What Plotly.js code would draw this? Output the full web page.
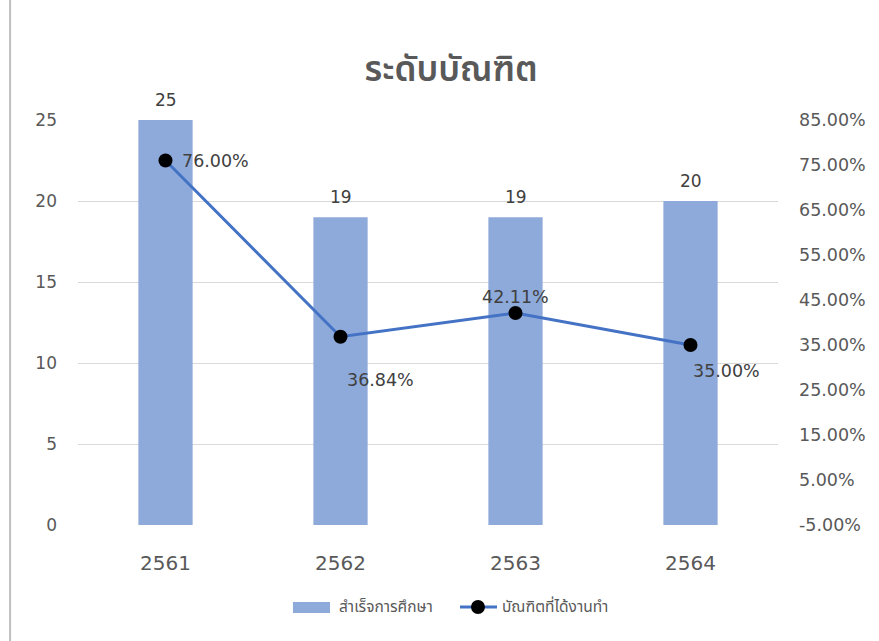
<!DOCTYPE html>
<html>
<head>
<meta charset="utf-8">
<script src="https://cdn.plot.ly/plotly-3.0.1.min.js"></script>
<style>html,body{margin:0;padding:0;background:#fff;}#chart{width:879px;height:641px;}</style>
</head>
<body>
<div id="chart"></div>
<script>
const categories = ['2561', '2562', '2563', '2564'];
const graduates = [25, 19, 19, 20];
const employedPct = [0.76, 0.3684, 0.4211, 0.35];
const barName = 'สำเร็จการศึกษา';
const lineName = 'บัณฑิตที่ได้งานทำ';
const titleText = 'ระดับบัณฑิต';
const leftTicks = [0, 5, 10, 15, 20, 25];
const rightTicks = [-0.05, 0.05, 0.15, 0.25, 0.35, 0.45, 0.55, 0.65, 0.75, 0.85];
// label placement per point: [xanchor, yshift, xshift]
const pctLabelPlace = [['left', 0, 14], ['left', -43, 4], ['center', 16, 0], ['left', -26, 0]];

const THAI = 'Noto Sans Thai, Noto Sans, sans-serif';
const NUM = 'DejaVu Sans, sans-serif';
const GREY = '#595959';
const BARCOLOR = '#8eaadb';
const LINECOLOR = '#4472c4';
const pct = v => (v * 100).toFixed(2) + '%';

const bar = {
  type: 'bar', x: categories, y: graduates, name: barName,
  marker: {color: BARCOLOR}, width: 0.31, yaxis: 'y', showlegend: false
};
const line = {
  type: 'scatter', mode: 'lines+markers', x: categories, y: employedPct, name: lineName,
  yaxis: 'y2', line: {color: LINECOLOR, width: 3},
  marker: {color: '#000', size: 14},
  cliponaxis: false, showlegend: false
};

const barLabels = graduates.map((v, i) => ({
  xref: 'x', yref: 'y', x: i, y: v, text: String(v), showarrow: false,
  xanchor: 'center', yanchor: 'middle', yshift: 20,
  font: {size: 17, color: '#404040', family: NUM}
}));
const pctLabels = employedPct.map((v, i) => ({
  xref: 'x', yref: 'y2', x: i, y: v, text: pct(v), showarrow: false,
  xanchor: pctLabelPlace[i][0], yanchor: 'middle',
  yshift: pctLabelPlace[i][1], xshift: pctLabelPlace[i][2],
  font: {size: 17.5, color: '#404040', family: NUM}
}));
// custom legend (wide bar swatch, like the reference)
const legendY = -0.2025;
const legendText = [
  {xref: 'paper', yref: 'paper', x: 0.37, y: legendY, text: barName, showarrow: false,
   xanchor: 'left', yanchor: 'middle', font: {size: 15.5, color: GREY, family: THAI}},
  {xref: 'paper', yref: 'paper', x: 0.603, y: legendY, text: lineName, showarrow: false,
   xanchor: 'left', yanchor: 'middle', font: {size: 15.5, color: GREY, family: THAI}}
];

const layout = {
  width: 879, height: 641,
  margin: {l: 78, r: 101, t: 120, b: 116},
  paper_bgcolor: '#fff', plot_bgcolor: '#fff',
  title: {text: titleText, font: {size: 35, color: GREY, family: THAI, weight: 600},
    x: 0.533, xanchor: 'center', xref: 'paper', y: 0.893, yanchor: 'middle'},
  bargap: 0.69,
  xaxis: {
    type: 'category', range: [-0.5, 3.5], tickfont: {size: 20, color: GREY, family: NUM},
    showline: false, ticks: '', showgrid: false, zeroline: false, ticklabelstandoff: 24
  },
  yaxis: {
    range: [0, 25], tickvals: leftTicks, ticktext: leftTicks.map(String),
    tickfont: {size: 17, color: GREY, family: NUM},
    showgrid: true, gridcolor: '#d9d9d9', gridwidth: 1, zeroline: false,
    ticks: '', ticklabelstandoff: 20
  },
  yaxis2: {
    overlaying: 'y', side: 'right', range: [-0.05, 0.85],
    tickvals: rightTicks, ticktext: rightTicks.map(pct),
    tickfont: {size: 17.5, color: GREY, family: NUM},
    showgrid: false, zeroline: false, ticks: '', ticklabelstandoff: 20
  },
  showlegend: false,
  shapes: [
    {type: 'line', xref: 'paper', yref: 'paper', x0: -0.097, x1: -0.097, y0: -0.3, y1: 1.4,
     line: {color: '#bfbfbf', width: 2}},
    {type: 'rect', xref: 'paper', yref: 'paper', x0: 0.3071, x1: 0.36, y0: -0.2173, y1: -0.1901,
     fillcolor: BARCOLOR, line: {width: 0}},
    {type: 'line', xref: 'paper', yref: 'paper', x0: 0.5457, x1: 0.5986, y0: legendY, y1: legendY,
     line: {color: LINECOLOR, width: 3}},
    {type: 'circle', xref: 'paper', yref: 'paper', xsizemode: 'pixel', ysizemode: 'pixel',
     xanchor: 0.5714, yanchor: legendY, x0: -7, x1: 7, y0: -7, y1: 7,
     fillcolor: '#000', line: {width: 0}}
  ],
  annotations: barLabels.concat(pctLabels, legendText)
};

Plotly.newPlot('chart', [bar, line], layout, {displayModeBar: false, staticPlot: true});
</script>
</body>
</html>
